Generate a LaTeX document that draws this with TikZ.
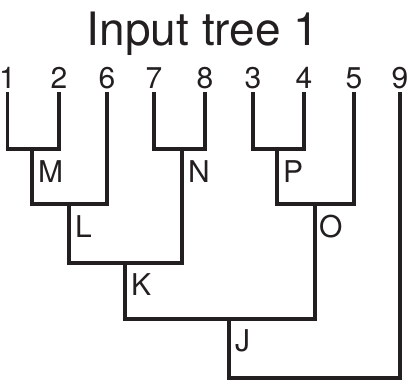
\documentclass[tikz,border=0pt]{standalone}
\usepackage{fontspec}
\setmainfont{TeX Gyre Heros}
\definecolor{ink}{HTML}{231F20}
\begin{document}
\begin{tikzpicture}[x=1pt,y=-1pt,
  leaf/.style={anchor=base,inner sep=2pt,outer sep=2pt,font=\fontsize{30}{34}\selectfont,text=ink},
  lab/.style={anchor=base west,inner sep=0pt,font=\fontsize{30}{34}\selectfont,text=ink},
  edge/.style={draw=ink,line width=3.2pt,line join=miter},
  ttl/.style={anchor=base,inner sep=0pt,font=\fontsize{46}{52}\selectfont,text=ink}]
\useasboundingbox (0,0) rectangle (415,380);
\node[ttl] (title) at (203,45) {Input tree 1};
\node[leaf] (l1) at (7.5,88) {1};
\node[leaf] (l2) at (59,88) {2};
\node[leaf] (l6) at (107,88) {6};
\node[leaf] (l7) at (154,88) {7};
\node[leaf] (l8) at (205,88) {8};
\node[leaf] (l3) at (253,88) {3};
\node[leaf] (l4) at (304,88) {4};
\node[leaf] (l5) at (354,88) {5};
\node[leaf] (l9) at (400,88) {9};
\coordinate (M) at (32,149);
\coordinate (L) at (69,204);
\coordinate (N) at (182,149);
\coordinate (K) at (125,263);
\coordinate (P) at (277,149);
\coordinate (O) at (315,204);
\coordinate (J) at (229,319);
\coordinate (Jb) at (229,378);
\node[lab] (Mlab) at (38,182) {M};
\node[lab] (Llab) at (75,237) {L};
\node[lab] (Nlab) at (188,182) {N};
\node[lab] (Klab) at (131,295) {K};
\node[lab] (Plab) at (283,182) {P};
\node[lab] (Olab) at (319,237) {O};
\node[lab] (Jlab) at (235,351) {J};
\draw[edge] (l1.south) |- (M) -| (l2.south);
\draw[edge] (M) |- (L) -| (l6.south);
\draw[edge] (l7.south) |- (N) -| (l8.south);
\draw[edge] (L) |- (K) -| (N);
\draw[edge] (l3.south) |- (P) -| (l4.south);
\draw[edge] (P) |- (O) -| (l5.south);
\draw[edge] (K) |- (J) -| (O);
\draw[edge] (J) -- (Jb) -| (l9.south);
\end{tikzpicture}
\end{document}
